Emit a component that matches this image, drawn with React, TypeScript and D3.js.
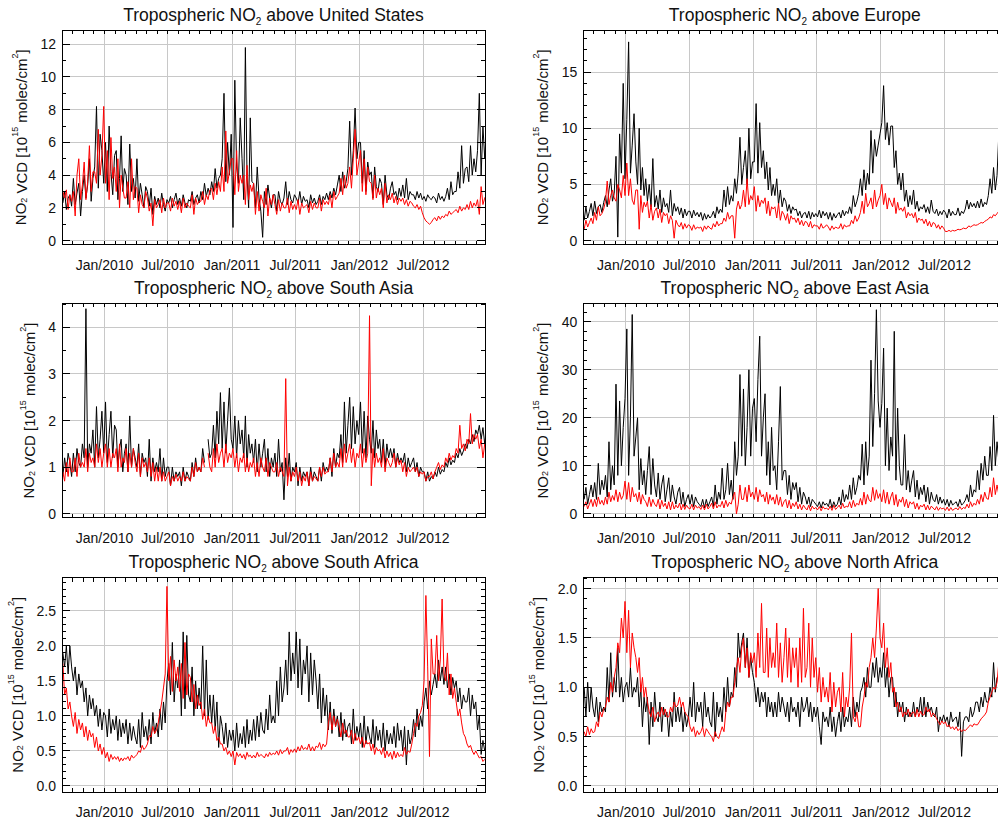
import React from "react";
import * as d3 from "d3";

// time axis: Sep 2009 .. late Dec 2012, one row of samples per month
const START = new Date(2009, 8, 1);
const END = new Date(2012, 11, 25);
const months = d3.timeMonth.range(new Date(2009, 8, 1), new Date(2013, 0, 1));

// ---- United States ----
const usBlack = [
  [2.3, 3.0, 1.9, 2.6, 2.8, 2.1], [3.8, 2.2, 2.9, 3.5, 1.5, 3.0], [4.0, 2.6, 3.4, 5.0, 2.4, 3.8], [4.5, 8.2, 3.2, 6.5, 5.5, 3.5],
  [6.0, 3.0, 7.0, 4.2, 2.8, 5.2], [5.5, 2.5, 3.8, 6.4, 3.0, 4.4], [4.0, 2.2, 5.9, 3.0, 3.8, 2.6], [5.0, 2.4, 3.5, 2.8, 2.0, 3.3],
  [3.0, 2.1, 3.2, 1.6, 2.7, 2.2], [2.6, 2.0, 2.9, 2.2, 1.8, 2.5], [2.3, 2.7, 2.0, 2.5, 2.9, 2.2], [2.6, 2.1, 2.8, 2.3, 2.0, 2.5],
  [2.4, 3.0, 2.2, 2.6, 2.8, 2.3], [3.0, 2.5, 3.5, 2.7, 3.2, 2.8], [3.6, 3.0, 4.4, 3.2, 3.8, 4.0], [5.0, 9.0, 3.6, 6.0, 4.0, 6.5],
  [0.8, 9.8, 4.5, 3.5, 7.5, 5.0], [2.5, 11.8, 4.0, 2.0, 7.5, 3.6], [3.5, 2.0, 4.5, 2.6, 1.8, 0.2], [3.0, 2.2, 3.4, 2.6, 2.0, 2.8],
  [2.8, 1.8, 3.0, 2.4, 2.2, 2.6], [3.6, 2.2, 3.0, 2.5, 2.3, 2.8], [2.6, 2.3, 3.0, 2.2, 2.7, 2.4], [2.5, 2.0, 2.8, 2.3, 2.6, 2.2],
  [2.4, 2.8, 2.2, 2.7, 2.5, 2.9], [2.5, 3.0, 2.6, 3.2, 2.8, 3.4], [4.0, 3.0, 4.2, 3.2, 3.6, 4.4], [7.3, 4.0, 5.5, 8.1, 5.0, 6.0],
  [6.0, 3.5, 5.5, 3.0, 4.8, 4.0], [4.2, 2.6, 4.5, 3.3, 3.0, 3.8], [3.5, 2.2, 4.0, 2.8, 2.5, 3.2], [3.6, 2.8, 3.0, 2.5, 3.2, 2.7],
  [3.4, 2.6, 3.8, 2.5, 3.0, 2.8], [2.8, 2.5, 3.0, 2.6, 2.9, 2.5], [2.7, 2.4, 2.8, 2.6, 2.5, 2.7], [2.6, 2.3, 2.9, 2.5, 2.7, 2.4],
  [2.7, 3.2, 2.5, 3.6, 2.8, 3.0], [3.0, 4.2, 3.2, 5.8, 3.5, 4.4], [4.5, 3.6, 5.8, 4.0, 5.0, 4.2], [5.5, 9.0, 4.0, 7.0, 5.0, 6.9],
];
const usRed = [
  [3.0, 2.6, 3.1, 1.9, 2.8, 2.4], [3.0, 1.5, 4.0, 5.0, 2.5, 3.4], [4.8, 2.5, 3.6, 5.8, 3.0, 4.2], [4.2, 3.5, 6.8, 4.0, 5.2, 8.2],
  [3.5, 5.5, 2.5, 6.3, 3.8, 4.5], [3.0, 5.0, 2.0, 4.0, 3.2, 2.6], [2.6, 3.6, 2.0, 5.0, 2.5, 3.3], [3.2, 1.7, 2.8, 2.2, 2.0, 3.0],
  [2.6, 1.8, 2.3, 0.9, 2.5, 2.0], [2.2, 2.5, 1.7, 2.6, 2.0, 2.3], [2.3, 1.8, 2.6, 2.1, 2.4, 1.9], [2.4, 1.7, 2.6, 2.0, 2.3, 2.1],
  [2.0, 2.8, 1.6, 2.6, 2.2, 2.4], [2.4, 3.0, 2.2, 2.8, 2.5, 3.1], [3.2, 2.5, 3.5, 2.8, 3.6, 3.0], [4.5, 3.0, 6.7, 3.5, 4.2, 5.0],
  [5.0, 2.8, 5.5, 3.0, 4.0, 3.5], [4.0, 2.2, 4.6, 2.5, 3.4, 3.0], [3.5, 1.6, 3.0, 1.8, 2.8, 2.4], [2.0, 3.2, 1.5, 2.6, 2.2, 2.8],
  [2.2, 1.6, 2.5, 1.8, 2.3, 2.0], [2.0, 2.6, 1.7, 2.4, 1.9, 2.2], [1.9, 2.5, 1.6, 2.3, 2.0, 2.1], [2.2, 1.7, 2.4, 1.9, 2.3, 2.0],
  [2.0, 2.6, 1.8, 2.5, 2.2, 2.4], [2.2, 2.8, 2.0, 3.0, 2.5, 2.7], [2.9, 3.8, 2.8, 4.0, 3.2, 3.5], [4.5, 3.2, 5.0, 6.8, 4.0, 4.8],
  [5.5, 3.0, 5.0, 2.8, 4.5, 3.6], [3.5, 2.5, 4.0, 2.6, 3.2, 2.8], [3.2, 2.0, 3.5, 2.3, 2.8, 2.5], [2.9, 2.3, 2.7, 2.2, 2.6, 2.4],
  [2.6, 2.2, 2.5, 2.1, 2.4, 2.3], [2.1, 2.0, 2.2, 1.9, 2.1, 1.7], [1.4, 1.2, 1.1, 1.0, 1.1, 1.3], [1.4, 1.2, 1.5, 1.3, 1.5, 1.4],
  [1.6, 1.5, 1.8, 1.6, 1.7, 1.8], [1.9, 1.7, 2.1, 1.8, 2.0, 1.9], [2.2, 1.9, 2.4, 2.0, 2.3, 2.1], [2.5, 1.6, 3.3, 2.2, 2.6, 2.8],
];

// ---- Europe ----
const euBlack = [
  [1.8, 3.0, 2.0, 2.6, 3.3, 2.2], [3.5, 2.4, 3.0, 3.2, 2.5, 3.4], [4.0, 3.0, 4.5, 5.5, 3.5, 4.2], [7.5, 0.3, 9.5, 6.0, 14.0, 5.5],
  [10.8, 17.7, 6.0, 8.5, 11.3, 7.0], [5.0, 10.0, 4.5, 6.5, 4.0, 5.5], [3.5, 5.0, 3.0, 7.3, 3.0, 4.0], [2.8, 4.5, 2.5, 3.8, 3.0, 3.3],
  [2.5, 4.5, 2.2, 3.3, 2.6, 3.0], [2.3, 2.9, 2.0, 2.8, 2.2, 2.6], [2.6, 2.0, 2.7, 2.2, 2.5, 2.1], [2.5, 1.8, 2.4, 1.9, 2.3, 2.0],
  [2.2, 2.6, 2.0, 3.0, 2.4, 2.8], [2.5, 4.5, 3.0, 4.8, 3.2, 4.0], [3.5, 5.5, 4.2, 6.0, 9.2, 5.0], [6.5, 8.0, 5.0, 10.0, 5.5, 7.0],
  [7.0, 12.2, 6.0, 10.5, 6.5, 8.0], [5.5, 7.0, 4.5, 6.5, 4.0, 5.0], [4.0, 5.5, 3.2, 4.5, 3.0, 3.8], [3.5, 2.6, 3.2, 2.4, 3.0, 2.7],
  [2.8, 2.2, 2.6, 2.0, 2.4, 2.5], [2.0, 2.6, 1.9, 2.5, 2.1, 2.4], [2.1, 2.7, 2.0, 2.6, 2.2, 2.5], [1.9, 2.5, 1.8, 2.4, 2.0, 2.3],
  [2.5, 2.0, 2.7, 2.2, 2.6, 2.4], [3.0, 2.4, 4.0, 3.0, 3.5, 4.2], [5.5, 4.0, 6.3, 4.5, 6.0, 5.0], [9.8, 6.0, 9.0, 7.5, 8.5, 9.5],
  [10.5, 13.8, 9.0, 10.5, 8.5, 10.2], [10.2, 6.5, 8.0, 5.0, 6.0, 4.5], [6.0, 3.5, 4.5, 3.0, 4.0, 3.2], [4.5, 2.8, 3.5, 2.6, 3.0, 2.8],
  [3.2, 2.5, 3.0, 2.4, 3.6, 2.6], [2.4, 2.8, 2.2, 2.6, 2.3, 2.7], [2.5, 2.0, 2.8, 2.2, 2.6, 2.3], [2.3, 2.9, 2.2, 2.6, 2.4, 2.8],
  [3.6, 2.8, 3.4, 3.0, 3.3, 2.9], [3.5, 2.9, 3.7, 3.0, 3.4, 3.2], [4.0, 5.5, 4.2, 6.5, 4.5, 5.8], [9.5, 7.0, 9.0, 6.5, 8.0, 7.5],
];
const euRed = [
  [1.0, 1.8, 1.2, 1.6, 2.0, 1.5], [2.5, 1.8, 3.0, 2.2, 2.4, 2.8], [3.5, 5.3, 3.2, 4.0, 4.5, 3.8], [3.5, 5.0, 4.5, 3.8, 5.8, 4.0],
  [6.9, 4.0, 5.5, 3.6, 3.2, 4.5], [4.5, 1.0, 4.0, 2.5, 3.4, 3.0], [3.5, 2.0, 3.2, 1.8, 2.6, 2.9], [2.0, 2.8, 1.6, 2.5, 2.2, 2.4],
  [1.5, 2.2, 1.8, 0.2, 1.8, 1.4], [1.2, 1.6, 1.0, 1.5, 1.1, 1.4], [1.3, 0.9, 1.4, 1.0, 1.2, 1.1], [1.2, 0.8, 1.3, 1.0, 1.3, 1.1],
  [1.0, 1.5, 1.2, 1.7, 1.3, 1.5], [1.5, 2.0, 1.7, 2.5, 1.9, 2.2], [2.2, 0.2, 2.8, 3.5, 2.8, 3.2], [4.5, 3.0, 5.5, 3.2, 4.0, 3.6],
  [4.8, 2.6, 4.0, 3.0, 3.6, 3.3], [3.8, 2.4, 3.5, 2.2, 3.0, 2.8], [3.0, 2.0, 3.3, 1.8, 2.6, 2.3], [1.8, 2.4, 1.5, 2.2, 1.9, 2.0],
  [1.6, 2.0, 1.4, 1.8, 1.3, 1.7], [1.6, 1.2, 1.7, 1.1, 1.4, 1.3], [1.3, 1.0, 1.5, 1.1, 1.2, 1.4], [1.2, 0.9, 1.3, 1.0, 1.2, 1.1],
  [1.1, 1.5, 1.0, 1.4, 1.2, 1.3], [1.3, 1.8, 1.5, 2.2, 1.7, 2.0], [2.5, 3.5, 2.4, 4.2, 3.0, 3.3], [3.8, 2.8, 4.5, 3.0, 3.6, 4.0],
  [5.0, 3.2, 4.2, 2.8, 3.8, 3.4], [3.0, 3.8, 2.4, 3.4, 2.7, 2.9], [2.6, 3.0, 2.0, 2.5, 2.2, 2.4], [2.0, 2.5, 1.6, 2.0, 1.8, 1.9],
  [1.5, 1.9, 1.3, 1.7, 1.2, 1.6], [1.5, 1.1, 1.4, 1.0, 1.3, 1.1], [0.8, 0.8, 0.9, 0.8, 0.9, 0.85], [0.9, 1.0, 0.95, 1.0, 1.1, 1.05],
  [1.1, 1.3, 1.2, 1.3, 1.4, 1.35], [1.4, 1.5, 1.6, 1.55, 1.7, 1.8], [1.9, 2.1, 2.0, 2.3, 2.2, 2.4], [2.6, 2.8, 2.7, 3.0, 3.1, 3.0],
];

// ---- South Asia ----
const saBlack = [
  [0.8, 1.2, 0.9, 1.3, 1.1, 0.8], [1.3, 0.9, 1.4, 1.1, 1.0, 1.5], [1.2, 4.4, 1.0, 1.5, 1.3, 1.8], [1.0, 2.3, 1.2, 1.6, 2.2, 1.3],
  [2.4, 1.1, 1.7, 2.2, 1.2, 1.9], [1.8, 1.0, 1.4, 1.6, 0.9, 1.3], [1.5, 0.9, 2.1, 1.0, 1.4, 1.2], [1.0, 1.5, 0.8, 1.3, 1.1, 1.2],
  [0.8, 1.6, 0.7, 1.2, 0.9, 1.1], [0.9, 1.4, 0.7, 1.2, 0.8, 1.0], [1.0, 0.6, 1.0, 0.7, 0.9, 0.8], [0.9, 0.6, 1.0, 0.7, 0.9, 0.8],
  [0.7, 1.1, 0.8, 1.2, 0.9, 1.0], [0.9, 1.4, 1.1, null, 1.6, 1.2], [1.3, 1.9, 1.2, 2.2, 1.5, 2.6], [1.4, 2.4, 1.3, 2.0, 2.7, 1.6],
  [1.4, 2.1, 1.2, 2.0, 1.5, 1.8], [1.2, 2.1, 1.0, 1.7, 1.3, 1.5], [1.1, 1.6, 0.9, 1.5, 1.0, 1.3], [1.6, 0.9, 1.4, 0.8, 1.2, 1.0],
  [1.3, 0.8, 1.6, 0.9, 1.1, 0.3], [1.2, 0.8, 1.3, 0.7, 1.0, 0.9], [1.1, 0.6, 1.0, 0.7, 0.9, 0.8], [0.9, 0.6, 1.0, 0.7, 0.9, 0.8],
  [0.7, 1.0, 0.7, 1.1, 0.9, 1.0], [0.9, 1.2, 0.8, 1.4, 1.0, 1.3], [1.2, 1.7, 1.1, 2.4, 1.3, 1.9], [2.5, 1.4, 2.3, 1.5, 2.0, 1.7],
  [2.4, 1.3, 2.2, 1.2, 2.1, 1.6], [1.3, 2.0, 1.2, 1.8, 1.4, 1.6], [1.1, 1.6, 1.0, 1.5, 1.2, 1.4], [1.2, 1.4, 1.0, 1.3, 1.1, 1.2],
  [1.1, 1.3, 0.9, 1.2, 1.0, 1.1], [1.2, 0.9, 1.1, 0.8, 1.0, 0.9], [0.9, 0.7, 0.9, 0.7, 0.8, 0.75], [0.9, 0.8, 1.0, 0.85, 0.95, 0.9],
  [1.1, 1.0, 1.2, 1.05, 1.15, 1.1], [1.3, 1.2, 1.4, 1.25, 1.35, 1.5], [1.4, 1.6, 1.5, 1.7, 1.55, 1.8], [1.7, 1.9, 1.6, 1.85, 1.5, 1.8],
];
const saRed = [
  [0.9, 0.7, 1.1, 0.8, 1.2, 0.9], [0.9, 1.2, 0.8, 1.3, 1.0, 1.1], [1.0, 1.4, 0.9, 1.3, 1.1, 1.2], [1.0, 1.5, 1.1, 1.4, 1.0, 1.3],
  [1.5, 1.0, 1.4, 1.0, 1.3, 1.2], [1.4, 0.9, 1.5, 1.0, 1.2, 1.1], [1.4, 0.9, 1.3, 1.0, 1.4, 1.1], [0.9, 1.3, 0.8, 1.2, 1.0, 1.1],
  [0.9, 1.2, 0.8, 1.1, 0.7, 1.0], [0.7, 1.0, 0.7, 0.9, 0.7, 0.8], [0.9, 0.6, 0.8, 0.7, 0.85, 0.7], [0.8, 0.7, 0.9, 0.7, 0.8, 0.75],
  [0.7, 1.0, 0.8, 1.1, 0.9, 1.0], [0.9, 1.2, 1.0, null, 1.3, 1.0], [0.9, 1.4, 1.0, 1.5, 1.1, 1.3], [1.4, 1.0, 1.5, 1.1, 1.3, 1.2],
  [1.4, 1.0, 1.3, 0.9, 1.2, 1.1], [1.3, 0.9, 1.2, 0.9, 1.1, 1.0], [1.2, 0.8, 1.1, 0.8, 1.2, 1.0], [0.9, 1.2, 0.8, 1.1, 1.0, 0.9],
  [0.9, 1.1, 0.8, 1.0, 0.9, 0.8], [2.9, 0.6, 1.0, 0.7, 0.9, 0.8], [1.0, 0.7, 0.9, 0.6, 0.8, 0.7], [0.9, 0.6, 0.9, 0.7, 0.8, 0.75],
  [0.7, 1.0, 0.8, 1.0, 0.85, 0.9], [0.9, 1.2, 0.9, 1.3, 1.0, 1.1], [1.0, 1.4, 1.0, 1.5, 1.1, 1.3], [1.5, 1.1, 1.4, 1.0, 1.3, 1.2],
  [1.5, 1.0, 1.4, 1.1, 1.3, 4.25], [0.6, 1.4, 1.0, 1.3, 1.1, 1.2], [1.0, 1.4, 0.9, 1.2, 1.1, 1.0], [1.1, 1.3, 1.0, 1.2, 1.05, 1.15],
  [0.9, 1.1, 0.8, 1.0, 0.9, 0.95], [1.0, 0.9, 1.0, 0.8, 0.9, 0.85], [0.9, 0.7, 0.8, 0.8, 0.9, 0.75], [0.9, 1.0, 1.1, 0.95, 1.05, 1.0],
  [1.2, 1.1, 1.3, 1.15, 1.25, 1.2], [1.4, 1.3, 1.9, 1.4, 1.5, 1.35], [1.6, 1.5, 2.15, 1.5, 1.7, 1.6], [1.7, 1.4, 1.6, 1.2, 1.5, 1.4],
];

// ---- East Asia ----
const eaBlack = [
  [3.0, 5.5, 2.0, 4.0, 6.0, 3.5], [6.5, 3.0, 10.5, 4.0, 7.0, 5.0], [8.0, 3.5, 15.0, 5.0, 10.0, 6.0], [27.0, 8.0, 23.5, 10.0, 18.0, 24.0],
  [38.5, 8.0, 20.0, 41.5, 12.0, 16.0], [20.0, 5.0, 11.5, 6.0, 9.0, 4.0], [9.0, 14.0, 4.0, 11.5, 6.0, 3.5], [8.5, 3.0, 6.0, 8.0, 2.5, 5.0],
  [7.5, 2.5, 6.0, 3.5, 2.0, 4.5], [5.5, 2.0, 4.5, 1.5, 3.0, 4.0], [2.0, 4.0, 1.5, 3.5, 2.5, 2.0], [1.5, 3.0, 1.2, 3.0, 1.5, 2.5],
  [3.5, 1.5, 6.0, 2.0, 4.5, 3.0], [9.5, 3.0, 5.0, 10.5, 4.0, 7.0], [3.0, 15.0, 8.0, 12.0, 29.0, 12.0], [26.0, 10.0, 18.0, 30.0, 12.0, 22.0],
  [24.0, 15.0, 28.0, 37.0, 12.0, 20.0], [25.0, 8.0, 15.0, 6.0, 18.0, 9.0], [10.0, 5.0, 15.0, 26.5, 7.0, 9.0], [9.0, 4.0, 8.0, 3.0, 6.5, 5.0],
  [6.5, 2.5, 5.5, 2.0, 4.5, 3.5], [2.0, 3.5, 1.5, 3.0, 2.5, 2.0], [1.5, 2.5, 1.2, 2.5, 1.8, 2.2], [1.5, 3.0, 1.2, 2.5, 1.5, 2.0],
  [3.5, 1.8, 5.0, 2.5, 4.0, 3.0], [6.0, 3.0, 7.5, 4.0, 5.5, 8.0], [7.0, 14.5, 6.0, 15.0, 8.0, 12.0], [32.0, 14.0, 25.0, 42.5, 23.5, 18.0],
  [23.0, 34.5, 10.0, 22.0, 9.0, 16.0], [12.0, 38.0, 7.0, 22.0, 10.0, 6.0], [6.0, 16.5, 5.0, 9.0, 4.5, 7.0], [9.0, 3.5, 7.0, 3.0, 5.5, 4.0],
  [6.0, 2.5, 5.5, 2.0, 4.5, 3.0], [2.5, 4.0, 2.0, 3.5, 2.2, 3.0], [1.8, 3.0, 1.5, 2.8, 1.8, 2.2], [2.5, 1.5, 3.0, 1.8, 2.2, 2.8],
  [4.0, 2.5, 6.0, 3.5, 5.0, 4.5], [9.0, 5.0, 10.5, 7.0, 12.0, 8.0], [8.0, 14.0, 9.0, 20.5, 10.0, 15.0], [11.0, 16.0, 10.0, 14.0, 12.0, 13.0],
];
const eaRed = [
  [1.5, 2.5, 1.0, 2.0, 3.0, 1.5], [3.0, 1.5, 3.5, 2.0, 2.8, 1.8], [3.5, 2.0, 4.5, 2.5, 3.8, 2.8], [5.0, 2.5, 4.5, 3.0, 3.8, 6.8],
  [3.0, 6.5, 2.5, 5.5, 3.5, 4.2], [2.5, 4.5, 2.0, 4.0, 3.0, 2.5], [1.5, 3.5, 1.5, 3.0, 2.0, 1.5], [3.0, 1.0, 2.8, 1.5, 2.2, 1.0],
  [2.5, 0.8, 2.5, 1.0, 1.8, 1.2], [2.2, 0.8, 2.0, 0.9, 1.8, 1.2], [1.0, 2.0, 0.8, 1.8, 1.2, 1.5], [0.9, 1.8, 0.8, 2.0, 1.0, 1.5],
  [2.2, 1.0, 2.5, 1.2, 1.8, 1.5], [2.6, 1.2, 2.8, 1.5, 2.4, 2.0], [3.5, 4.5, 0.0, 2.0, 6.0, 3.0], [3.0, 5.5, 2.5, 6.0, 3.5, 4.5],
  [3.0, 5.5, 2.5, 5.0, 3.5, 4.0], [2.5, 4.5, 2.0, 4.0, 2.8, 3.5], [2.0, 4.0, 1.8, 3.5, 1.5, 2.5], [3.0, 1.2, 2.8, 1.0, 2.2, 1.5],
  [2.5, 1.0, 2.0, 0.8, 1.8, 1.2], [0.8, 1.8, 0.6, 1.6, 1.0, 1.3], [0.8, 1.5, 0.6, 1.5, 1.0, 1.2], [0.8, 1.6, 0.7, 1.8, 0.9, 1.3],
  [1.8, 1.0, 2.2, 1.2, 1.6, 1.4], [2.5, 1.2, 2.8, 1.5, 2.2, 1.8], [3.2, 1.8, 4.5, 2.0, 4.0, 2.8], [2.5, 5.5, 2.8, 5.0, 3.2, 4.2],
  [2.5, 5.0, 2.2, 4.5, 2.0, 3.5], [4.5, 1.8, 4.0, 1.5, 3.0, 2.4], [3.5, 1.5, 3.0, 1.2, 2.5, 2.0], [2.5, 1.0, 2.2, 0.9, 1.8, 1.4],
  [2.0, 0.8, 1.8, 0.8, 1.6, 1.2], [0.8, 1.5, 0.7, 1.3, 1.0, 1.2], [0.7, 1.4, 0.6, 1.3, 0.7, 1.0], [1.2, 0.8, 1.5, 0.9, 1.3, 1.1],
  [2.0, 1.2, 2.5, 1.5, 2.2, 1.8], [3.0, 2.0, 4.0, 2.5, 4.5, 3.2], [3.0, 5.5, 3.5, 7.5, 4.0, 6.0], [4.0, 8.0, 4.5, 7.0, 5.0, 6.5],
];

// ---- South Africa ----
const safBlack = [
  [1.9, 1.7, 2.0, 1.6, 2.0, 1.7], [1.5, 1.7, 1.3, 1.6, 1.4, 1.5], [1.2, 1.4, 1.0, 1.3, 1.1, 1.25], [1.0, 1.15, 0.85, 1.1, 0.8, 1.05],
  [1.0, 0.7, 1.1, 0.75, 0.95, 0.8], [1.0, 0.65, 0.95, 0.7, 0.9, 0.75], [0.95, 0.6, 0.9, 0.65, 0.85, 0.7], [0.6, 0.95, 0.55, 1.05, 0.7, 0.85],
  [0.65, 0.95, 0.6, 1.05, 0.75, 0.9], [0.7, 1.1, 0.8, 1.2, 0.9, 1.5], [1.75, 1.3, 2.05, 1.2, 1.6, 1.4], [1.8, 1.0, 2.2, 1.1, 2.15, 1.3],
  [1.2, 1.7, 1.0, 1.5, 1.1, 1.4], [1.1, 2.0, 1.0, 1.8, 0.95, 1.3], [0.9, 1.3, 0.8, 1.2, 0.55, 1.0], [0.85, 0.6, 0.9, 0.55, 0.8, 0.65],
  [0.8, 0.5, 0.9, 0.55, 0.75, 0.6], [0.85, 0.55, 0.95, 0.6, 0.8, 0.65], [0.95, 0.65, 1.0, 0.7, 1.05, 0.8], [0.75, 1.1, 0.8, 1.3, 0.9, 1.0],
  [0.9, 1.5, 1.0, 1.7, 1.2, 1.4], [1.8, 1.3, 2.2, 1.5, 1.9, 1.6], [2.2, 1.4, 2.1, 1.3, 1.8, 1.6], [2.0, 1.2, 1.9, 1.3, 1.8, 1.5],
  [1.1, 1.6, 0.9, 1.4, 1.0, 1.3], [0.8, 1.2, 0.75, 1.1, 0.85, 1.0], [0.7, 1.05, 0.65, 0.95, 0.7, 0.85], [0.9, 0.6, 1.1, 0.65, 0.85, 0.7],
  [0.9, 0.55, 1.0, 0.6, 0.85, 0.7], [0.6, 0.95, 0.55, 0.85, 0.65, 0.8], [0.55, 0.9, 0.5, 0.8, 0.6, 0.75], [0.6, 0.85, 0.55, 0.9, 0.65, 0.8],
  [0.5, 0.85, 0.3, 0.8, 0.6, 0.7], [0.95, 0.7, 1.1, 0.8, 1.0, 0.85], [1.2, 1.4, 1.1, 1.5, 1.3, 1.45], [1.6, 1.4, 1.8, 1.5, 1.7, 1.45],
  [1.7, 1.4, 1.6, 1.3, 1.55, 1.4], [1.5, 1.2, 1.4, 1.1, 1.3, 1.2], [1.2, 1.4, 1.0, 1.3, 1.1, 1.2], [0.8, 1.0, 0.45, 0.65, 0.5, 0.6],
];
const safRed = [
  [1.75, 1.3, 1.4, 1.1, 1.2, 1.0], [0.85, 1.05, 0.75, 0.95, 0.8, 0.9], [0.7, 0.85, 0.65, 0.8, 0.7, 0.75], [0.55, 0.7, 0.5, 0.6, 0.45, 0.55],
  [0.4, 0.48, 0.35, 0.45, 0.38, 0.42], [0.38, 0.42, 0.35, 0.4, 0.36, 0.4], [0.38, 0.42, 0.36, 0.44, 0.4, 0.42], [0.45, 0.5, 0.48, 0.58, 0.52, 0.55],
  [0.6, 0.72, 0.7, 0.85, 0.75, 0.8], [0.9, 1.05, 1.2, 1.4, 1.6, 2.85], [1.5, 1.85, 1.35, 1.8, 1.5, 1.7], [1.35, 1.75, 1.25, 2.05, 1.3, 1.6],
  [1.55, 1.2, 1.45, 1.1, 1.3, 1.15], [1.2, 0.95, 1.1, 0.85, 1.0, 0.9], [0.9, 0.75, 0.85, 0.65, 0.7, 0.6], [0.6, 0.5, 0.55, 0.45, 0.5, 0.42],
  [0.5, 0.3, 0.48, 0.42, 0.46, 0.4], [0.45, 0.38, 0.48, 0.42, 0.44, 0.4], [0.44, 0.4, 0.48, 0.42, 0.45, 0.43], [0.4, 0.46, 0.42, 0.48, 0.44, 0.47],
  [0.45, 0.5, 0.44, 0.52, 0.46, 0.5], [0.5, 0.55, 0.45, 0.52, 0.48, 0.53], [0.48, 0.56, 0.5, 0.58, 0.52, 0.55], [0.52, 0.6, 0.5, 0.56, 0.5, 0.57],
  [0.55, 0.62, 0.52, 0.6, 0.56, 0.6], [0.9, 1.05, 0.8, 1.0, 0.85, 0.95], [0.85, 0.7, 0.9, 0.75, 0.8, 0.7], [0.7, 0.8, 0.6, 0.75, 0.65, 0.7],
  [0.6, 0.7, 0.55, 0.65, 0.6, 0.62], [0.5, 0.6, 0.45, 0.55, 0.5, 0.52], [0.45, 0.55, 0.4, 0.5, 0.42, 0.48], [0.38, 0.5, 0.4, 0.48, 0.42, 0.45],
  [0.42, 0.55, 0.45, 0.5, 0.48, 0.6], [0.75, 0.9, 0.85, 1.0, 1.05, 1.15], [1.5, 2.72, 1.7, 0.42, 2.1, 1.6], [1.6, 2.15, 1.5, 1.8, 2.67, 1.6],
  [1.5, 1.9, 1.3, 1.6, 1.25, 1.4], [1.2, 1.0, 1.1, 0.9, 0.75, 0.7], [0.6, 0.55, 0.58, 0.5, 0.45, 0.5], [0.45, 0.4, 0.42, 0.35, 0.38, 0.36],
];

// ---- North Africa ----
const naBlack = [
  [1.0, 0.7, 1.05, 0.75, 1.0, 0.8], [0.7, 0.9, 0.65, 0.85, 0.75, 0.8], [0.75, 1.2, 0.85, 1.35, 0.9, 1.1], [0.95, 1.4, 0.9, 1.1, 0.85, 1.0],
  [1.05, 0.9, 1.2, 0.9, 1.0, 0.95], [1.1, 0.8, 1.0, 0.6, 0.9, 0.75], [0.9, 0.42, 0.85, 0.6, 0.95, 0.7], [0.65, 0.85, 0.55, 0.8, 0.7, 0.75],
  [0.5, 0.75, 0.6, 0.95, 0.65, 0.8], [0.65, 0.8, 0.55, 0.75, 0.6, 0.7], [0.9, 0.7, 1.05, 0.65, 0.85, 0.75], [0.85, 0.6, 0.95, 0.7, 0.8, 0.65],
  [0.6, 0.95, 0.5, 0.85, 0.7, 0.8], [0.65, 1.0, 0.75, 1.1, 0.8, 0.95], [0.9, 1.2, 1.0, 1.55, 1.3, 1.45], [1.55, 1.2, 1.5, 1.1, 1.3, 1.15],
  [1.05, 0.85, 1.0, 0.8, 0.95, 0.85], [0.95, 0.7, 0.9, 0.75, 0.85, 0.7], [0.85, 0.7, 0.95, 0.75, 0.9, 0.8], [0.7, 0.85, 0.65, 0.9, 0.75, 0.8],
  [0.7, 0.85, 0.6, 0.9, 0.75, 0.8], [0.9, 0.7, 0.85, 0.65, 0.8, 0.7], [0.8, 0.6, 0.42, 0.75, 0.65, 0.7], [0.6, 0.8, 0.55, 0.7, 0.5, 0.65],
  [0.75, 0.55, 0.8, 0.6, 0.7, 0.65], [0.8, 0.6, 0.9, 0.7, 0.85, 0.75], [0.95, 1.0, 1.1, 0.9, 1.2, 1.0], [1.0, 1.25, 1.1, 1.3, 1.05, 1.2],
  [1.1, 1.35, 1.0, 1.2, 0.9, 1.1], [1.1, 0.8, 0.95, 0.7, 0.85, 0.75], [0.85, 0.65, 0.8, 0.7, 0.75, 0.7], [0.85, 0.7, 0.8, 0.75, 0.9, 0.7],
  [0.9, 0.7, 0.85, 0.75, 0.8, 0.72], [0.7, 0.8, 0.55, 0.7, 0.65, 0.72], [0.65, 0.7, 0.6, 0.75, 0.65, 0.68], [0.7, 0.6, 0.75, 0.3, 0.65, 0.7],
  [0.7, 0.65, 0.8, 0.7, 0.75, 0.85], [0.85, 0.75, 0.9, 0.8, 0.95, 0.85], [0.85, 1.0, 0.9, 1.25, 0.95, 1.1], [1.1, 1.2, 1.05, 1.15, 1.1, 1.2],
];
const naRed = [
  [0.55, 0.5, 0.6, 0.52, 0.58, 0.54], [0.55, 0.65, 0.6, 0.75, 0.7, 0.78], [0.8, 0.9, 0.85, 1.05, 0.95, 1.1], [1.2, 1.45, 1.35, 1.7, 1.5, 1.87],
  [1.35, 1.78, 1.2, 1.55, 1.4, 1.3], [1.15, 1.3, 0.95, 1.1, 0.9, 1.0], [0.85, 0.75, 0.7, 0.8, 0.65, 0.72], [0.75, 0.7, 0.8, 0.72, 0.78, 0.7],
  [0.7, 0.8, 0.75, 0.85, 0.8, 0.82], [0.9, 0.8, 0.85, 0.75, 0.72, 0.7], [0.6, 0.55, 0.6, 0.5, 0.56, 0.52], [0.55, 0.6, 0.5, 0.58, 0.55, 0.52],
  [0.5, 0.45, 0.55, 0.5, 0.48, 0.54], [0.6, 0.55, 0.75, 0.85, 0.8, 0.9], [0.9, 1.05, 1.2, 1.3, 1.15, 1.4], [1.5, 1.2, 1.4, 1.1, 1.35, 1.25],
  [1.35, 1.1, 1.55, 1.2, 1.85, 1.15], [1.15, 1.6, 1.1, 1.5, 1.2, 1.35], [1.2, 1.65, 1.1, 1.45, 1.05, 1.3], [1.6, 1.1, 1.5, 1.05, 1.4, 1.2],
  [1.4, 1.0, 1.5, 1.05, 1.8, 1.1], [1.2, 1.65, 1.0, 1.5, 1.1, 1.3], [0.95, 1.2, 0.85, 1.1, 0.9, 1.0], [0.85, 1.15, 0.75, 1.05, 0.8, 0.95],
  [1.0, 0.75, 1.15, 0.7, 0.9, 0.8], [1.0, 1.55, 0.7, 0.65, 0.75, 0.6], [0.6, 0.8, 0.9, 1.05, 1.0, 1.2], [1.3, 1.5, 1.3, 1.6, 2.0, 1.5],
  [1.4, 1.65, 1.2, 1.4, 1.1, 1.25], [0.95, 1.0, 0.8, 0.85, 0.75, 0.8], [0.7, 0.75, 0.72, 0.78, 0.7, 0.74], [0.75, 0.7, 0.78, 0.7, 0.76, 0.72],
  [0.72, 0.8, 0.75, 0.78, 0.7, 0.74], [0.72, 0.68, 0.65, 0.62, 0.66, 0.63], [0.65, 0.6, 0.62, 0.58, 0.6, 0.57], [0.6, 0.56, 0.58, 0.55, 0.57, 0.56],
  [0.58, 0.6, 0.62, 0.6, 0.63, 0.62], [0.62, 0.65, 0.68, 0.7, 0.72, 0.75], [0.85, 0.9, 0.95, 1.0, 0.98, 1.05], [1.25, 1.05, 1.2, 1.1, 1.15, 1.2],
];

const FONT = "'Liberation Sans', Arial, Helvetica, sans-serif";
const COL_X = [62, 583.3];
const ROW_Y = [30, 303.3, 577.5];
const PLOT_W = 423;
const PLOT_H = 214.5;

type Pt = { date: Date; value: number | null };

// spread each month's samples evenly through that month
const toPoints = (rows: (number | null)[][]): Pt[] => {
  const pts: Pt[] = [];
  rows.forEach((vals, m) => {
    const t0 = months[m];
    const t1 = d3.timeMonth.offset(t0, 1);
    vals.forEach((v, j) => {
      pts.push({ date: new Date(+t0 + ((j + 0.5) / vals.length) * (+t1 - +t0)), value: v });
    });
  });
  return pts;
};

const panels = [
  { region: "United States", black: usBlack, red: usRed, yDomain: [-0.24, 12.87], major: 2, minor: 1, dec: 0, col: 0, row: 0 },
  { region: "Europe", black: euBlack, red: euRed, yDomain: [-0.36, 18.76], major: 5, minor: 1, dec: 0, col: 1, row: 0 },
  { region: "South Asia", black: saBlack, red: saRed, yDomain: [-0.086, 4.516], major: 1, minor: 0.5, dec: 0, col: 0, row: 1 },
  { region: "East Asia", black: eaBlack, red: eaRed, yDomain: [-0.84, 43.84], major: 10, minor: 2, dec: 0, col: 1, row: 1 },
  { region: "South Africa", black: safBlack, red: safRed, yDomain: [-0.086, 2.977], major: 0.5, minor: 0.1, dec: 1, col: 0, row: 2 },
  { region: "North Africa", black: naBlack, red: naRed, yDomain: [-0.061, 2.112], major: 0.5, minor: 0.1, dec: 1, col: 1, row: 2 },
];

const stepsUpTo = (hi: number, step: number) =>
  d3.range(0, Math.floor(hi / step + 1e-6) + 1).map(i => +(i * step).toFixed(4));

const labelWidth = (s: string) => s.split("").reduce((w, c) => w + (c === "." ? 3.9 : 7.8), 0);

const Panel = ({ p, idx }: { p: any; idx: number }) => {
  const x0 = COL_X[p.col];
  const top = ROW_Y[p.row];
  const bottom = top + PLOT_H;
  const x = d3.scaleTime().domain([START, END]).range([x0, x0 + PLOT_W]);
  const y = d3.scaleLinear().domain(p.yDomain).range([bottom, top]);
  const line = d3
    .line<Pt>()
    .defined(d => d.value != null)
    .x(d => x(d.date))
    .y(d => y(d.value as number));

  const fmt = p.dec ? d3.format(".1f") : d3.format("d");
  const majors = stepsUpTo(p.yDomain[1], p.major);
  const minors = stepsUpTo(p.yDomain[1], p.minor).filter(
    v => Math.abs(v / p.major - Math.round(v / p.major)) > 1e-6
  );
  const halfYears = x.ticks(d3.timeMonth.every(6));
  const monthTicks = x.ticks(d3.timeMonth.every(1));
  const fmtDate = d3.timeFormat("%b/%Y");
  const maxLabel = d3.max(majors, v => labelWidth(fmt(v))) as number;
  const titleX = x0 - 6 - maxLabel - 19.5;
  const midY = (top + bottom) / 2;
  const clipId = `clip-${idx}`;

  return (
    <g fontFamily={FONT}>
      <defs>
        <clipPath id={clipId}>
          <rect x={x0} y={top} width={PLOT_W} height={PLOT_H} />
        </clipPath>
      </defs>
      <g stroke="#c8c8c8" strokeWidth={1} shapeRendering="crispEdges">
        {majors.map(v => (
          <line key={"h" + v} x1={x0} x2={x0 + PLOT_W} y1={y(v)} y2={y(v)} />
        ))}
        {halfYears.map(d => (
          <line key={"v" + +d} x1={x(d)} x2={x(d)} y1={top} y2={bottom} />
        ))}
      </g>
      <g clipPath={`url(#${clipId})`} fill="none" strokeWidth={1}>
        <path d={line(toPoints(p.black)) || ""} stroke="#000" />
        <path d={line(toPoints(p.red)) || ""} stroke="#ff0000" />
      </g>
      <g stroke="#000" strokeWidth={1} shapeRendering="crispEdges">
        <rect x={x0} y={top} width={PLOT_W} height={PLOT_H} fill="none" />
        {monthTicks.map(d => (
          <g key={"m" + +d}>
            <line x1={x(d)} x2={x(d)} y1={bottom} y2={bottom - 4} />
            <line x1={x(d)} x2={x(d)} y1={top} y2={top + 4} />
          </g>
        ))}
        {majors.map(v => (
          <g key={"M" + v}>
            <line x1={x0} x2={x0 + 8} y1={y(v)} y2={y(v)} />
            <line x1={x0 + PLOT_W} x2={x0 + PLOT_W - 8} y1={y(v)} y2={y(v)} />
          </g>
        ))}
        {minors.map(v => (
          <g key={"n" + v}>
            <line x1={x0} x2={x0 + 4} y1={y(v)} y2={y(v)} />
            <line x1={x0 + PLOT_W} x2={x0 + PLOT_W - 4} y1={y(v)} y2={y(v)} />
          </g>
        ))}
      </g>
      <g fontSize={14} fill="#111">
        {majors.map(v => (
          <text key={"l" + v} x={x0 - 6} y={y(v)} dy="0.36em" textAnchor="end">
            {fmt(v)}
          </text>
        ))}
        {halfYears.map(d => (
          <text key={"t" + +d} x={x(d)} y={bottom + 25} textAnchor="middle">
            {fmtDate(d)}
          </text>
        ))}
      </g>
      <text x={x0 + PLOT_W / 2} y={top - 9.5} fontSize={17.5} textAnchor="middle" fill="#111">
        Tropospheric NO
        <tspan fontSize={10} dy={4}>2</tspan>
        <tspan dy={-4}>{" above " + p.region}</tspan>
      </text>
      <text
        transform={`translate(${titleX},${midY}) rotate(-90)`}
        fontSize={15}
        textAnchor="middle"
        dominantBaseline="central"
        fill="#111"
      >
        NO
        <tspan fontSize={9} dy={3}>2</tspan>
        <tspan dy={-3}> VCD [10</tspan>
        <tspan fontSize={9} dy={-6}>15</tspan>
        <tspan dy={6}> molec/cm</tspan>
        <tspan fontSize={9} dy={-6}>2</tspan>
        <tspan dy={6}>]</tspan>
      </text>
    </g>
  );
};

export default function App() {
  return (
    <svg
      width={998}
      height={823}
      style={{ position: "absolute", left: 0, top: 0, display: "block", background: "#fff" }}
    >
      <rect width={998} height={823} fill="#fff" />
      {panels.map((p, i) => (
        <Panel key={p.region} p={p} idx={i} />
      ))}
    </svg>
  );
}
